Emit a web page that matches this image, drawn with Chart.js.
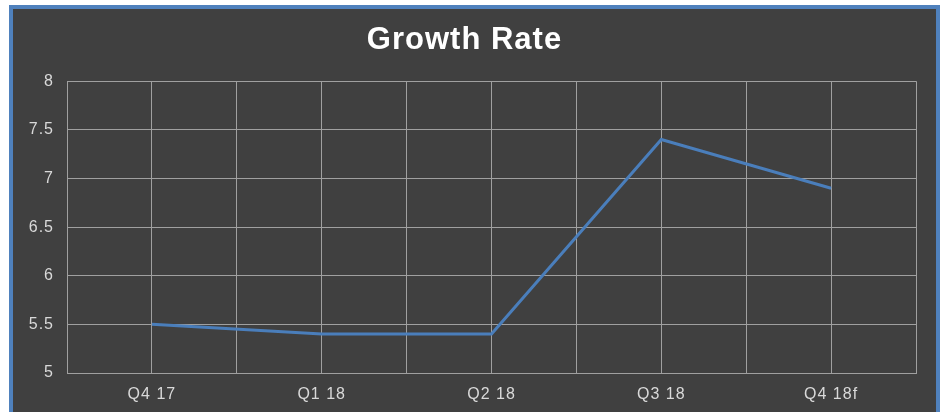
<!DOCTYPE html>
<html>
<head>
<meta charset="utf-8">
<script src="https://cdn.jsdelivr.net/npm/chart.js@4/dist/chart.umd.min.js"></script>
<style>
  html, body { margin: 0; padding: 0; background: #ffffff; overflow: hidden; }
  #frame {
    position: absolute; left: 9px; top: 5px;
    width: 923px; height: 420px;
    border: 4px solid #4f81bd;
    background: #404040;
  }
  #wrap { position: absolute; left: 0; top: 0; width: 923px; height: 403px; }
</style>
</head>
<body>
<div id="frame"><div id="wrap"><canvas id="growthChart"></canvas></div></div>
<script>
var quarters = ['Q4 17', 'Q1 18', 'Q2 18', 'Q3 18', 'Q4 18f'];
var growthValues = [5.5, 5.4, 5.4, 7.4, 6.9];
var yTicks = [5, 5.5, 6, 6.5, 7, 7.5, 8];

var points = quarters.map(function (q, i) {
    return { x: i, y: growthValues[i] };
});

// the reference text looks a bit stretched, so widen it a little
var spacing = {
    id: 'spacing',
    beforeDraw: function (chart) { chart.ctx.letterSpacing = '1px'; }
};

var ctx = document.getElementById('growthChart').getContext('2d');
var growthChart = new Chart(ctx, {
    type: 'line',
    data: {
        datasets: [{
            label: 'Growth Rate',
            data: points,
            borderColor: '#4a7ebb',
            borderWidth: 3,
            pointRadius: 0,
            tension: 0,
            fill: false
        }]
    },
    plugins: [spacing],
    options: {
        responsive: true,
        maintainAspectRatio: false,
        animation: false,
        layout: { padding: { left: 0, right: 20, top: 0, bottom: 0 } },
        plugins: {
            legend: { display: false },
            tooltip: { enabled: false },
            title: {
                display: true,
                text: 'Growth Rate',
                color: '#ffffff',
                font: { family: 'Liberation Sans, Arial, sans-serif', size: 31, weight: 'bold' },
                padding: { top: 13, bottom: 22 }
            }
        },
        scales: {
            x: {
                type: 'linear',
                min: -0.5,
                max: quarters.length - 0.5,
                afterBuildTicks: function (scale) {
                    var t = [];
                    for (var i = 0; i <= quarters.length * 2; i++) t.push({ value: -0.5 + i * 0.5 });
                    scale.ticks = t;
                },
                afterFit: function (scale) { scale.height = 39; },
                grid: { color: '#a0a0a0', lineWidth: 1, drawTicks: false },
                border: { color: '#a0a0a0' },
                ticks: {
                    autoSkip: false,
                    maxRotation: 0,
                    color: '#d9d9d9',
                    padding: 12,
                    font: { family: 'Liberation Sans, Arial, sans-serif', size: 16 },
                    callback: function (v) {
                        var r = Math.round(v);
                        return Math.abs(v - r) < 1e-6 && quarters[r] ? quarters[r] : '';
                    }
                }
            },
            y: {
                min: yTicks[0],
                max: yTicks[yTicks.length - 1],
                afterBuildTicks: function (scale) {
                    scale.ticks = yTicks.map(function (v) { return { value: v }; });
                },
                afterFit: function (scale) { scale.width = 54; },
                grid: { color: '#a0a0a0', lineWidth: 1, drawTicks: false },
                border: { color: '#a0a0a0' },
                ticks: {
                    color: '#d9d9d9',
                    padding: 13,
                    font: { family: 'Liberation Sans, Arial, sans-serif', size: 16 },
                    callback: function (v) { return String(v); }
                }
            }
        }
    }
});
</script>
</body>
</html>
